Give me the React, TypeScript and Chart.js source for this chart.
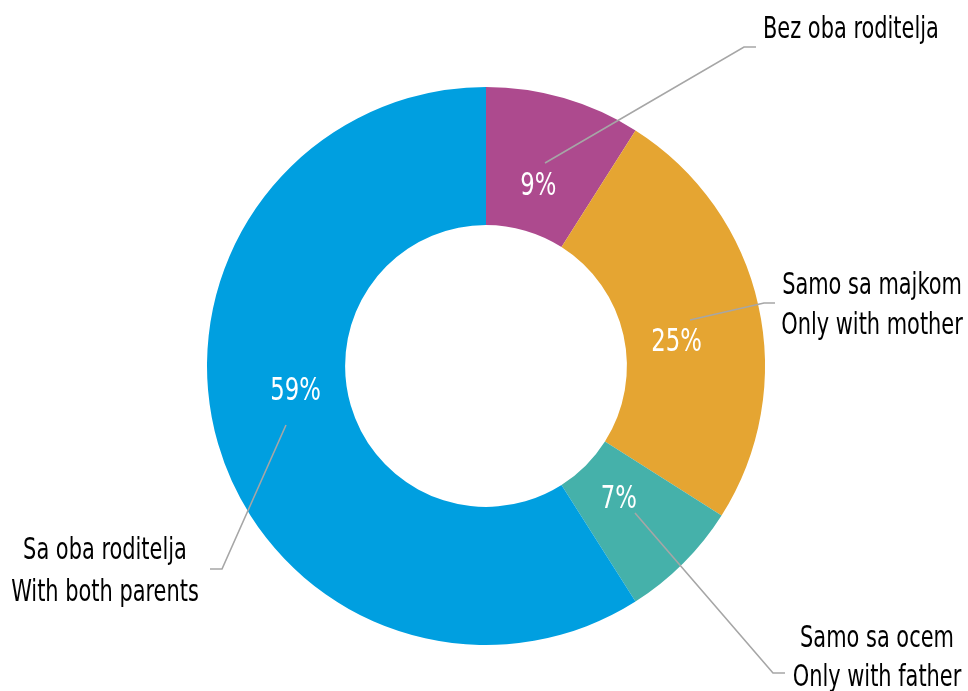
import React, { useEffect, useRef } from "react";
import { Chart, registerables } from "chart.js";

Chart.register(...registerables);

// ---- data ----
const categories = ["Bez oba roditelja", "Samo sa majkom", "Samo sa ocem", "Sa oba roditelja"];
const categoriesEn = ["", "Only with mother", "Only with father", "With both parents"];
const values = [9, 25, 7, 59];
const colors = ["#AD4A8E", "#E5A532", "#45B1AA", "#009FE0"];

// ---- label layout (offsets from the doughnut centre, px) ----
const labelLayout = [
  { t: 0.5, rf: 0.34, line: [[59, -203], [258, -319], [270, -319]], tx: 277, align: "left", ty: [-338] },
  { t: 0.56, rf: 0.37, line: [[204, -46], [278, -63], [289, -63]], tx: 386, align: "center", ty: [-82, -42] },
  { t: 0.5, rf: 0.34, line: [[149, 147], [287, 307], [299, 307]], tx: 391, align: "center", ty: [271, 310] },
  { t: 0.541, rf: 0.37, line: [[-200, 59], [-264, 203], [-276, 203]], tx: -381, align: "center", ty: [183, 225] },
];

const FONT = '"DejaVu Sans Condensed", "Liberation Sans Narrow", sans-serif';
const TEXT_SIZE = 30;
const TEXT_SX = 0.775;
const PCT_SIZE = 32;
const PCT_SX = 0.79;

function drawScaled(ctx: CanvasRenderingContext2D, s: string, x: number, y: number, sx: number) {
  ctx.save();
  ctx.translate(x, y);
  ctx.scale(sx, 1);
  ctx.fillText(s, 0, 0);
  ctx.restore();
}

const labelPlugin = {
  id: "doughnutLabels",
  afterDraw(chart: any) {
    const ctx = chart.ctx;
    const meta = chart.getDatasetMeta(0);
    meta.data.forEach((arc: any, i: number) => {
      const p = arc.getProps(["x", "y", "startAngle", "endAngle", "innerRadius", "outerRadius"], true);
      const L = labelLayout[i];
      const a = p.startAngle + (p.endAngle - p.startAngle) * L.t;
      const r = p.innerRadius + (p.outerRadius - p.innerRadius) * L.rf;
      const px = p.x + Math.cos(a) * r;
      const py = p.y + Math.sin(a) * r;
      ctx.save();
      // percentage
      ctx.fillStyle = "#ffffff";
      ctx.font = `${PCT_SIZE}px ${FONT}`;
      ctx.textAlign = "center";
      ctx.textBaseline = "middle";
      drawScaled(ctx, values[i] + "%", px, py + 1, PCT_SX);
      // leader line
      ctx.strokeStyle = "#A6A6A6";
      ctx.lineWidth = 1.6;
      ctx.beginPath();
      L.line.forEach((pt, k) => {
        const lx = p.x + pt[0];
        const ly = p.y + pt[1];
        if (k === 0) ctx.moveTo(lx, ly);
        else ctx.lineTo(lx, ly);
      });
      ctx.stroke();
      // category text
      ctx.fillStyle = "#000000";
      ctx.font = `${TEXT_SIZE}px ${FONT}`;
      ctx.textAlign = L.align as CanvasTextAlign;
      const lines = [categories[i], categoriesEn[i]].filter((s) => s);
      lines.forEach((s, k) => {
        drawScaled(ctx, s, p.x + L.tx, p.y + L.ty[k] + 2, TEXT_SX);
      });
      ctx.restore();
    });
  },
};

export default function App() {
  const ref = useRef<HTMLCanvasElement | null>(null);
  useEffect(() => {
    if (!ref.current) return;
    const chart = new Chart(ref.current, {
      type: "doughnut",
      data: {
        labels: categories,
        datasets: [
          {
            data: values,
            backgroundColor: colors,
            borderWidth: 0,
          },
        ],
      },
      options: {
        responsive: false,
        animation: false,
        cutout: "50.5%",
        layout: { padding: { left: 207, right: 203, top: 87, bottom: 46 } },
        plugins: {
          legend: { display: false },
          tooltip: { enabled: false },
        },
      },
      plugins: [labelPlugin],
    });
    return () => chart.destroy();
  }, []);
  return (
    <div style={{ position: "absolute", left: 0, top: 0, width: 968, height: 691, background: "#fff" }}>
      <canvas ref={ref} width={968} height={691} style={{ display: "block" }} />
    </div>
  );
}
